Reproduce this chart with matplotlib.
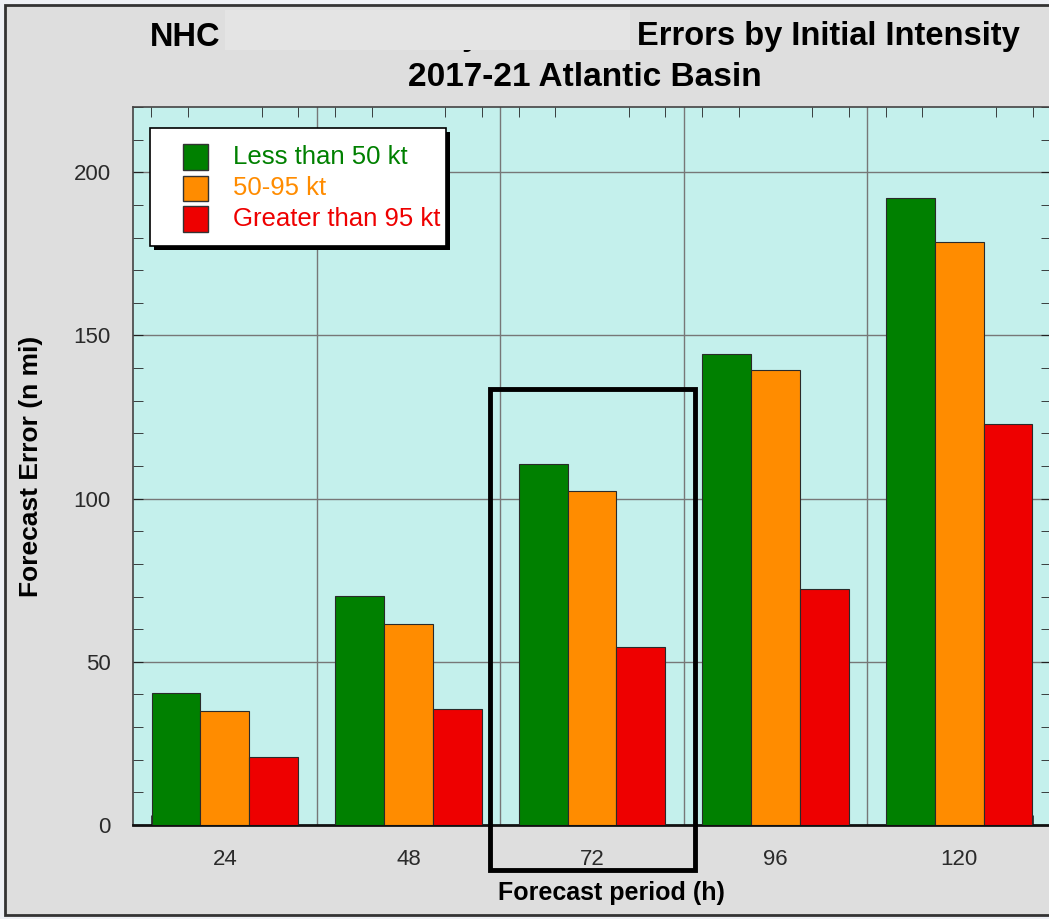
import matplotlib.pyplot as plt
from matplotlib.patches import Rectangle
from matplotlib.ticker import MultipleLocator, FixedLocator

# Forecast periods (h) and mean track errors (n mi) by initial intensity
periods = [24, 48, 72, 96, 120]
less_50 = [40.4, 70.1, 110.5, 144.2, 192.0]
kt_50_95 = [34.9, 61.5, 102.3, 139.3, 178.5]
greater_95 = [20.8, 35.5, 54.5, 72.3, 122.8]

series_names = ['Less than 50 kt', '50-95 kt', 'Greater than 95 kt']
series_colors = ['#008000', '#ff8c00', '#ee0000']

plt.rcParams['font.family'] = ['Liberation Sans', 'DejaVu Sans']

W, H = 1049, 919
fig = plt.figure(figsize=(W / 100, H / 100), dpi=100)
fig.patch.set_facecolor('#eef0f5')

# grey panel with dark frame behind everything
fig.patches.append(Rectangle((5 / W, 4 / H), 1.2, 910 / H, transform=fig.transFigure,
                             facecolor='#dedede', edgecolor='#333333', linewidth=2, zorder=-10))

ax = fig.add_axes([133 / W, 1 - 825 / H, 918 / W, 718 / H])
ax.set_facecolor('#c4f0ec')

bar_w = 4.8 * 1.33
offsets = [-bar_w, 0, bar_w]
for vals, col, off in zip([less_50, kt_50_95, greater_95], series_colors, offsets):
    ax.bar([p + off for p in periods], vals, width=bar_w, color=col,
           edgecolor='#2a2a2a', linewidth=0.8, zorder=3)

ax.set_xlim(12, 132)
ax.set_ylim(0, 220)

# grid lines between groups and every 50 n mi
ax.xaxis.set_major_locator(FixedLocator(periods))
ax.xaxis.set_minor_locator(MultipleLocator(4.8))
ax.yaxis.set_major_locator(MultipleLocator(50))
ax.yaxis.set_minor_locator(MultipleLocator(10))
for gx in [36, 60, 84, 108]:
    ax.axvline(gx, color='#777777', linewidth=1, zorder=1)
for gy in [50, 100, 150, 200]:
    ax.axhline(gy, color='#777777', linewidth=1, zorder=1)

ax.tick_params(which='both', direction='in', top=True, right=True, colors='#222222')
ax.tick_params(which='major', length=0, labelsize=16, pad=17, labelcolor='#2a2a2a')
ax.tick_params(axis='y', which='major', length=7, pad=16)
ax.tick_params(which='minor', length=7)
ax.set_xticklabels([str(p) for p in periods])

for s in ax.spines.values():
    s.set_color('#444444')
    s.set_linewidth(1.2)
ax.spines['bottom'].set_color('#111111')
ax.spines['bottom'].set_linewidth(2)

ax.set_xlabel('Forecast period (h)', fontsize=18, fontweight='bold')
ax.xaxis.set_label_coords((611 - 133) / 918, -(893 - 825) / 718)
ax.xaxis.label.set_va('center')
ax.set_ylabel('Forecast Error (n mi)', fontsize=19, fontweight='bold', labelpad=22)

# legend box with drop shadow, drawn in pixel positions of the figure
def fig_box(x0, y0, x1, y1, **kw):
    fig.patches.append(Rectangle((x0 / W, 1 - y1 / H), (x1 - x0) / W, (y1 - y0) / H,
                                 transform=fig.transFigure, **kw))

fig_box(154, 132, 450, 250, facecolor='black', edgecolor='none', zorder=8)
fig_box(150, 128, 446, 246, facecolor='white', edgecolor='black', linewidth=1.2, zorder=9)
for i, (name, col) in enumerate(zip(series_names, series_colors)):
    yc = 157 + 31 * i
    fig_box(183, yc - 12.5, 208, yc + 12.5, facecolor=col, edgecolor='#333333',
            linewidth=1, zorder=10)
    fig.text(233 / W, 1 - yc / H, name, color=col, fontsize=18.5, va='center', zorder=10)

# highlight box around the 72 h group
ax.add_patch(Rectangle((58.7, -13.8), 26.7, 147.3, fill=False, edgecolor='black',
                       linewidth=3.5, clip_on=False, zorder=20))

# titles (middle part masked by a grey box)
fig.text(150 / W, 1 - 37 / H, 'NHC', fontsize=23.5, fontweight='bold', va='center')
fig.text(1020 / W, 1 - 37 / H, 'Errors by Initial Intensity', fontsize=23.5,
         fontweight='bold', va='center', ha='right')
fig.text(462 / W, 1 - 37 / H, 'y', fontsize=23.5, fontweight='bold', va='center', zorder=1)
fig_box(225, 10, 630, 50, facecolor='#e4e4e4', edgecolor='none', zorder=5)
fig.text(585 / W, 1 - 78 / H, '2017-21 Atlantic Basin', fontsize=24,
         fontweight='bold', va='center', ha='center')

plt.savefig('out.png', dpi=100, facecolor=fig.get_facecolor())
